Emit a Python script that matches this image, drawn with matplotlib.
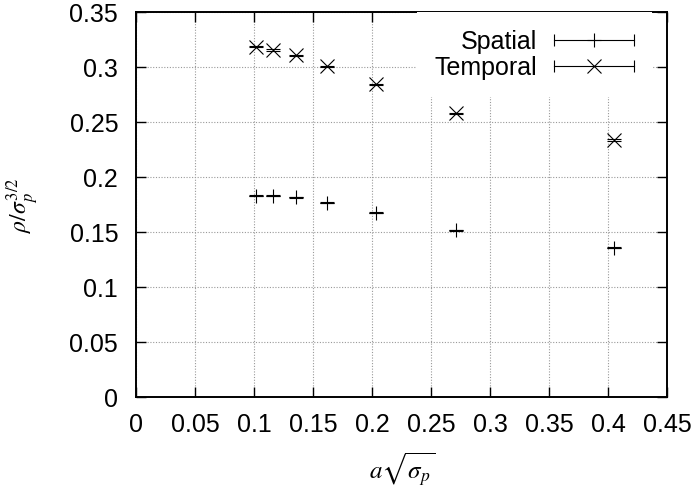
import matplotlib
matplotlib.use("Agg")
import matplotlib.pyplot as plt
from matplotlib.lines import Line2D
from matplotlib.legend_handler import HandlerBase
from matplotlib.ticker import FuncFormatter

plt.rcParams['font.family'] = ['Liberation Sans', 'DejaVu Sans']
plt.rcParams['mathtext.fontset'] = 'stix'

# data
x_vals = [0.1014, 0.116, 0.1356, 0.162, 0.2029, 0.2707, 0.405]
spatial = [0.1833, 0.1833, 0.1818, 0.1769, 0.1678, 0.152, 0.136]
temporal = [0.3187, 0.3157, 0.311, 0.301, 0.2845, 0.2582, 0.2339]
spatial_err = [0.0005, 0.0005, 0.0005, 0.0005, 0.0005, 0.0005, 0.0005]
temporal_err = [0.0006, 0.0006, 0.0006, 0.0006, 0.0006, 0.0006, 0.0006]
x_ticks = [0, 0.05, 0.1, 0.15, 0.2, 0.25, 0.3, 0.35, 0.4, 0.45]
y_ticks = [0, 0.05, 0.1, 0.15, 0.2, 0.25, 0.3, 0.35]


class ErrorBarHandler(HandlerBase):
    # gnuplot style key: horizontal bar with caps, symbol in the middle
    def create_artists(self, legend, orig_handle, xdescent, ydescent,
                       width, height, fontsize, trans):
        y = height / 2 - ydescent
        x0 = -xdescent
        x1 = width - xdescent
        bar = Line2D([x0, x1], [y, y], color='black', lw=0.8)
        caps = Line2D([x0, x1], [y, y], ls='none', marker='|',
                      markersize=9, markeredgewidth=0.8, color='black')
        sym = Line2D([(x0 + x1) / 2], [y], ls='none',
                     marker=orig_handle.get_marker(), markersize=10,
                     markeredgewidth=0.8, color='black')
        for a in (bar, caps, sym):
            a.set_transform(trans)
        return [bar, caps, sym]


fig = plt.figure(figsize=(6.94, 4.94), dpi=100)
ax = fig.add_axes([0.1964, 0.1957, 0.9615 - 0.1964, 0.9751 - 0.1957])

ax.errorbar(x_vals, spatial, yerr=spatial_err, fmt='none', ecolor='black',
            elinewidth=0.8, capsize=4.7, capthick=0.8)
ax.errorbar(x_vals, temporal, yerr=temporal_err, fmt='none', ecolor='black',
            elinewidth=0.8, capsize=4.7, capthick=0.8)
h1, = ax.plot(x_vals, spatial, ls='none', marker='+', markersize=10,
              markeredgewidth=0.8, color='black', label='Spatial')
h2, = ax.plot(x_vals, temporal, ls='none', marker='x', markersize=10,
              markeredgewidth=0.8, color='black', label='Temporal')

ax.set_xlim(0, 0.45)
ax.set_ylim(0, 0.35)
ax.set_xticks(x_ticks)
ax.set_yticks(y_ticks)
fmt = FuncFormatter(lambda v, _: f"{v:g}")
ax.xaxis.set_major_formatter(fmt)
ax.yaxis.set_major_formatter(fmt)

ax.tick_params(direction='in', length=7.5, width=1, top=True, right=True,
               labelsize=18, colors='black')
ax.tick_params(axis='x', pad=11)
ax.tick_params(axis='y', pad=13)
for s in ax.spines.values():
    s.set_linewidth(1.4)

ax.grid(True, color='0.6', linestyle=(0, (1, 1.5)), linewidth=0.8)
ax.set_axisbelow(True)

ax.set_xlabel(r'$a\sqrt{\sigma_p}$', fontsize=18)
ax.set_ylabel(r'$\rho/\sigma_p^{3/2}$', fontsize=17)
ax.xaxis.set_label_coords(0.5, -0.14)
ax.yaxis.set_label_coords(-0.18, 0.5)

leg = ax.legend(handles=[h1, h2], loc='upper right',
                bbox_to_anchor=(0.971, 1.0), borderaxespad=0,
                markerfirst=False, fontsize=18, handlelength=3.2,
                handletextpad=0.7, labelspacing=0.07, borderpad=0.7,
                frameon=True, fancybox=False, framealpha=1,
                handler_map={Line2D: ErrorBarHandler()})
leg.get_frame().set_edgecolor('none')
leg.get_frame().set_facecolor('white')

plt.savefig("out.png", dpi=100)
plt.close()
